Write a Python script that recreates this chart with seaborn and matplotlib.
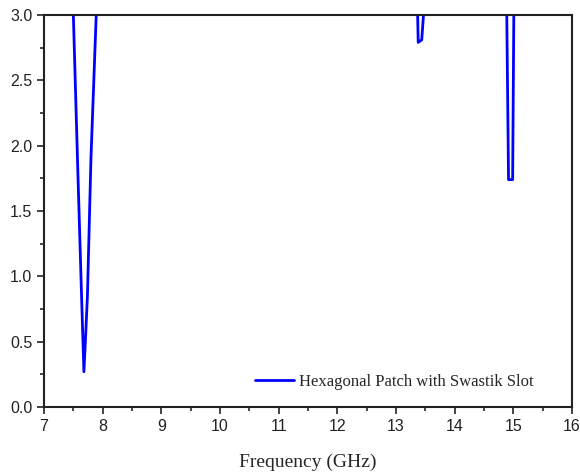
import numpy as np
import pandas as pd
import matplotlib
matplotlib.use('Agg')
import matplotlib.pyplot as plt
import seaborn as sns

# datos (VSWR vs frecuencia)
freq = [7.00, 7.40, 7.50, 7.58, 7.64, 7.68, 7.71, 7.74, 7.80, 7.89, 7.95,
        10.0, 13.30, 13.37, 13.38, 13.44, 13.47, 13.55,
        14.80, 14.89, 14.92, 14.99, 15.01, 15.10, 16.0]
vswr = [9.0, 4.5, 3.0, 1.75, 0.85, 0.27, 0.55, 0.85, 1.9, 3.0, 3.6,
        9.0, 3.6, 3.0, 2.79, 2.81, 3.0, 3.6,
        4.0, 3.0, 1.74, 1.74, 3.0, 4.0, 9.0]
serie = "Hexagonal Patch with Swastik Slot"

df = pd.DataFrame({"Frequency": freq, "VSWR": vswr, "serie": serie})

sns.set_style("ticks")
plt.rcParams['font.family'] = ['Liberation Sans', 'DejaVu Sans']

fig = plt.figure(figsize=(5.8, 4.72), dpi=100)
ax = fig.add_axes([0.0759, 0.1377, 0.9101, 0.8305])
sns.lineplot(data=df, x="Frequency", y="VSWR", hue="serie", palette=["#0000ff"],
             estimator=None, sort=False, linewidth=2, ax=ax)

ax.set_xlim(7, 16)
ax.set_ylim(0, 3)
ax.set_xticks(np.arange(7, 17, 1))
ax.set_yticks(np.arange(0, 3.01, 0.5))
ax.set_yticklabels([f"{v:.1f}" for v in np.arange(0, 3.01, 0.5)])
ax.set_xticks(np.arange(7.5, 16, 1), minor=True)
ax.set_yticks(np.arange(0.25, 3, 0.5), minor=True)
ax.tick_params(axis='both', which='major', direction='out', length=5, width=1.2,
               labelsize=11.5, colors='#222222')
ax.tick_params(axis='both', which='minor', direction='out', length=3, width=1.2)
for s in ax.spines.values():
    s.set_linewidth(1.5)
    s.set_color('#222222')

ax.set_xlabel("Frequency (GHz)", family=['Liberation Serif'], fontsize=14, labelpad=14)
ax.set_ylabel("")

leg = ax.legend(loc='lower right', bbox_to_anchor=(0.955, 0.005), frameon=False,
                prop={'family': 'Liberation Serif', 'size': 12}, handlelength=2.3,
                handletextpad=0.3)

plt.savefig("out.png", dpi=100)
plt.close()
